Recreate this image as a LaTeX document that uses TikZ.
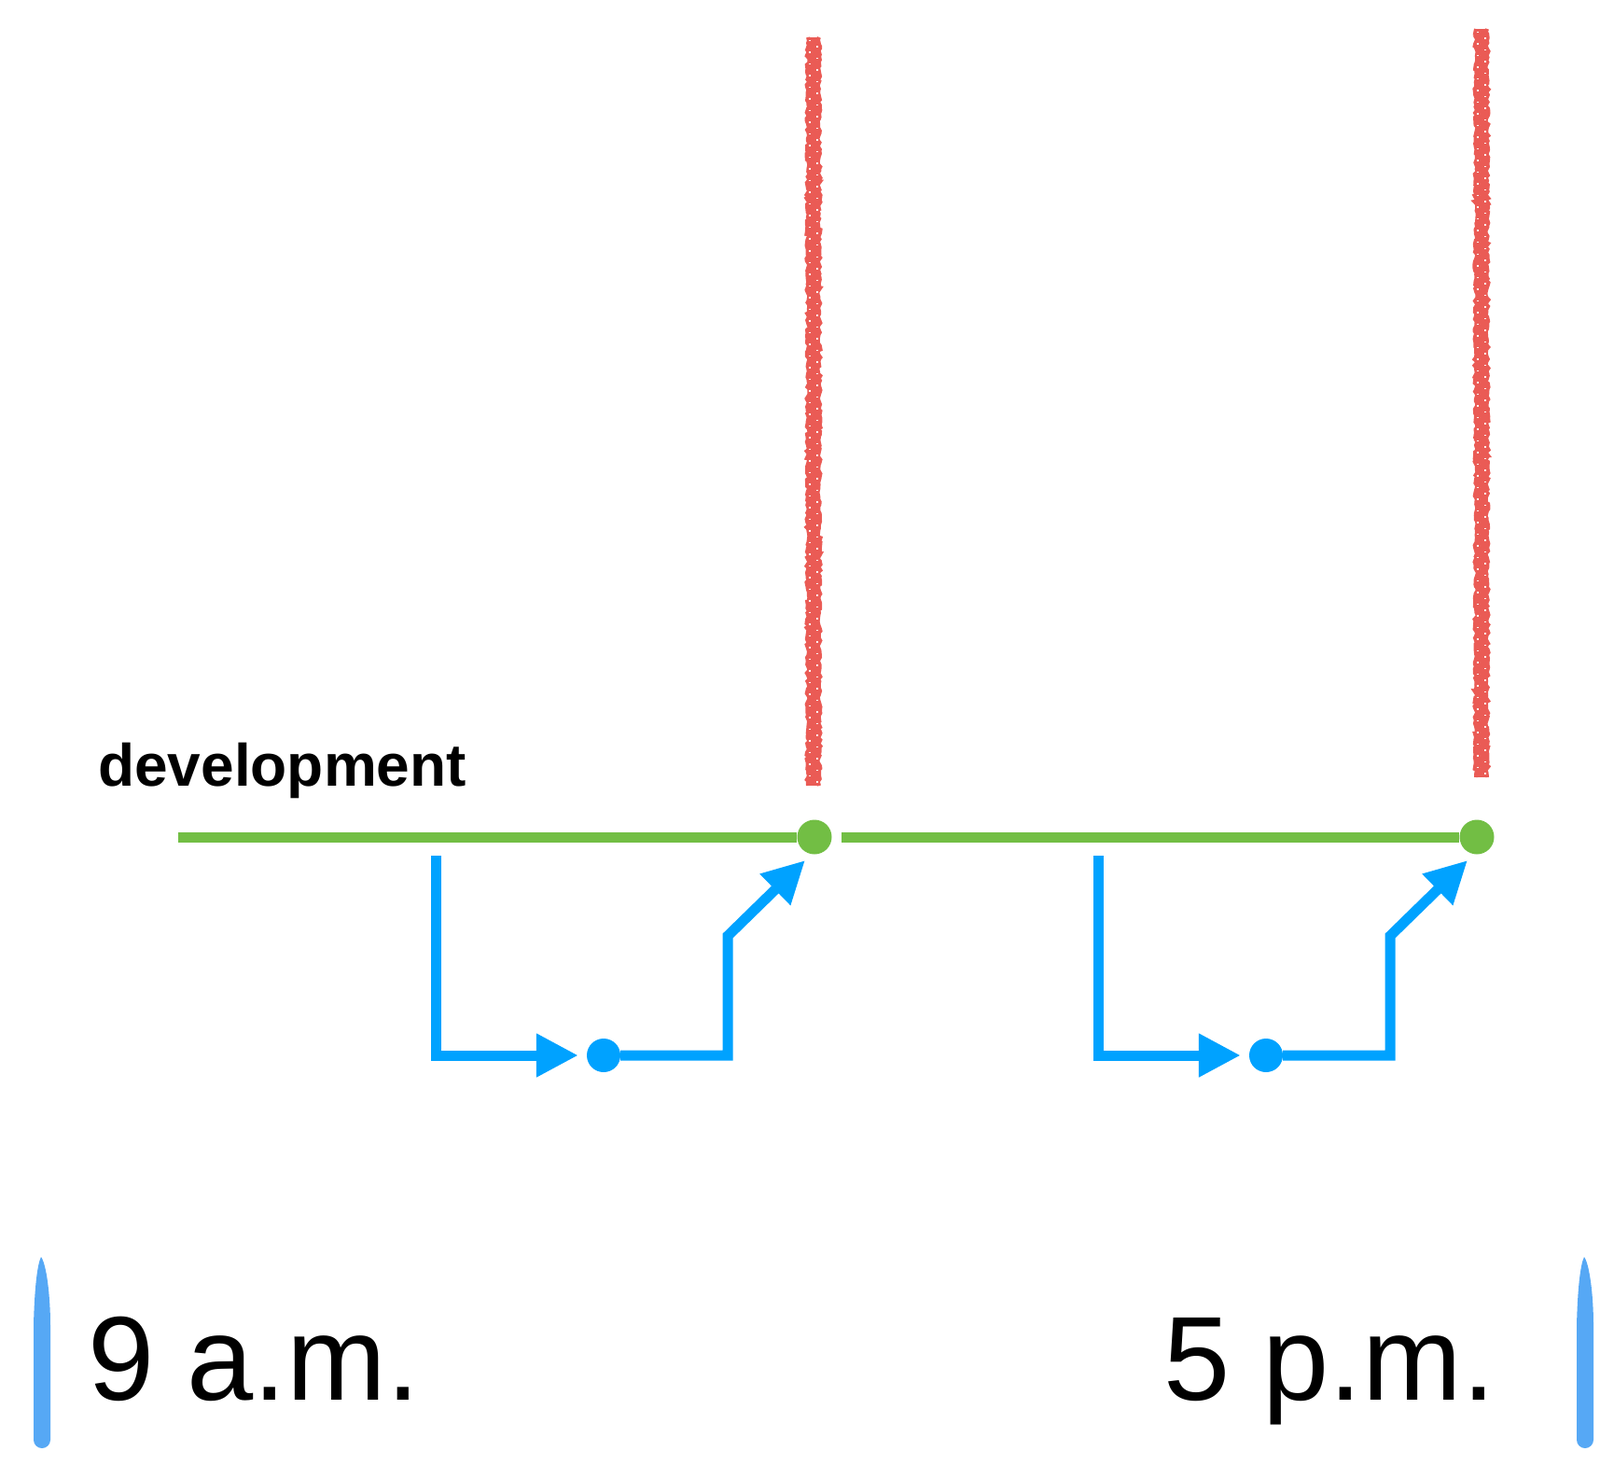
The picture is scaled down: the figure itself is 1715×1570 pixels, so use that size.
\documentclass[tikz,border=0pt]{standalone}
\usepackage{fontspec}
\setmainfont{Liberation Sans}
\usetikzlibrary{arrows.meta,decorations.pathmorphing,calc}
\definecolor{devgreen}{RGB}{114,190,68}
\definecolor{flowblue}{RGB}{0,162,255}
\definecolor{pencilred}{RGB}{234,91,85}
\definecolor{markblue}{RGB}{86,168,245}
\begin{document}
\begin{tikzpicture}[x=1pt,y=-1pt,
 greenline/.style={draw=devgreen,line width=11pt},
 greendot/.style={circle,fill=devgreen,inner sep=0pt,minimum size=37pt},
 bluedot/.style={circle,fill=flowblue,inner sep=0pt,minimum size=36pt},
 flow/.style={draw=flowblue,line width=11pt,miter limit=10,-{Triangle[length=45pt,width=44pt]}},
 redcore/.style={draw=pencilred,line width=12pt},
 rededge/.style={draw=pencilred,line width=4pt,decorate,decoration={random steps,segment length=3pt,amplitude=1.6pt}},
 speck/.style={draw=white,line width=1.2pt,dash pattern=on 1.5pt off 11pt},
 bigtext/.style={font=\fontsize{128}{132}\selectfont,inner sep=0pt},
]
\useasboundingbox (0,0) rectangle (1715,1570);

% red pencil marks
\foreach \n/\x/\ya/\yb in {r1/872/40/842, r2/1588/31/833}{
  \coordinate (\n top) at (\x,\ya);
  \coordinate (\n bot) at (\x,\yb);
  \draw[redcore] (\n top) -- (\n bot);
  \draw[rededge] ($(\n top)+(-6,0)$) -- ($(\n bot)+(-6,0)$);
  \draw[rededge] ($(\n top)+(6,0)$) -- ($(\n bot)+(6,0)$);
  \draw[speck] ($(\n top)+(-4,3)$) -- ($(\n bot)+(-4,-3)$);
  \draw[speck,dash phase=6pt] ($(\n top)+(4,3)$) -- ($(\n bot)+(4,-3)$);
}

% development line
\node[font=\fontsize{64}{70}\selectfont\bfseries,inner sep=0pt,anchor=base west] (dev) at (105,842) {development};
\node[greendot] (g1) at (873,897) {};
\node[greendot] (g2) at (1583,897) {};
\coordinate (devstart) at (191,897);
\coordinate (seg2start) at (902,897);
\draw[greenline] (devstart) -- (g1);
\draw[greenline] (seg2start) -- (g2);

% blue flows
\foreach \i/\dx in {1/0, 2/710}{
  \node[bluedot] (b\i) at (647+\dx,1131) {};
  \coordinate (s\i) at (467+\dx,917);
  \coordinate (k\i) at (780+\dx,1003);
  \coordinate (t\i) at (863+\dx,922);
  \draw[flow,shorten >=9pt] (s\i) |- (b\i);
  \draw[flow] (b\i) -| (k\i) -- (t\i);
}

% blue end marks
\foreach \n/\x in {mleft/45, mright/1699}{
  \fill[markblue] (\x-9,1543) -- (\x-9,1420)
    .. controls (\x-8,1380) and (\x-5,1355) .. (\x-1,1347)
    .. controls (\x+5,1355) and (\x+9,1390) .. (\x+9,1420)
    -- (\x+9,1543) arc[start angle=0,end angle=180,radius=9] -- cycle;
}

% times
\node[bigtext,anchor=base west] (nine) at (94,1500) {9 a.m.};
\node[bigtext,anchor=base east] (five) at (1603,1500) {5 p.m.};
\end{tikzpicture}
\end{document}
